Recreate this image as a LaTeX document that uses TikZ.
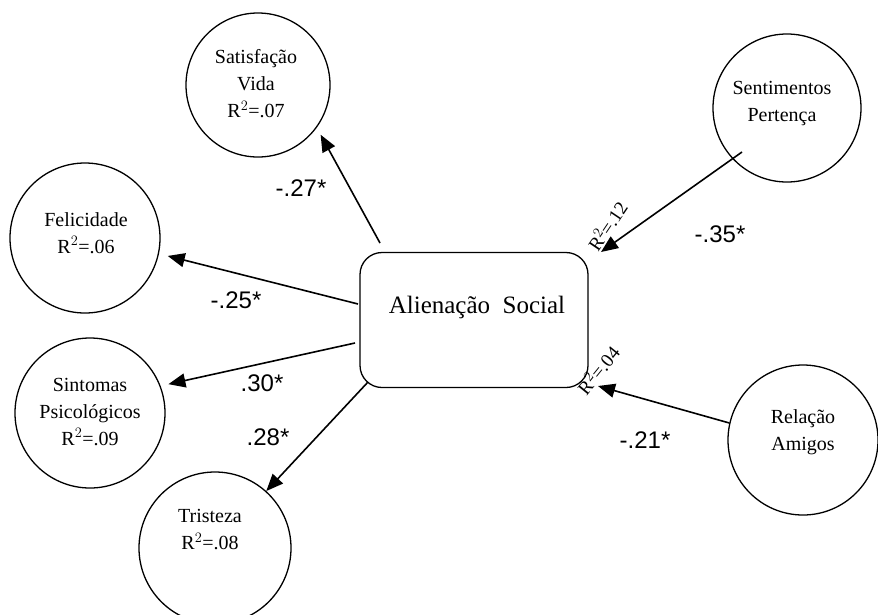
\documentclass[tikz,border=0pt]{standalone}
\usepackage{fontspec}
\setmainfont{Liberation Serif}
\newfontfamily\labfont{Liberation Sans}
\usetikzlibrary{arrows.meta,calc}
\begin{document}
\begin{tikzpicture}[x=1pt,y=-1pt,
  circ/.style={draw,line width=1.3pt,circle,inner sep=0pt},
  ctext/.style={align=center,font=\fontsize{20}{27}\selectfont,inner sep=0pt},
  arr/.style={line width=1.6pt,-{Triangle[length=17pt,width=14pt]}},
  coef/.style={font=\labfont\fontsize{24}{26}\selectfont,inner sep=0pt},
  rlab/.style={font=\fontsize{19}{22}\selectfont,inner sep=0pt}]
\useasboundingbox (0,0) rectangle (878,614);
% nodes
\node[circ,minimum size=144pt] (sat) at (258,85) {};
\node[circ,minimum size=150pt] (fel) at (85,238) {};
\node[circ,minimum size=150pt] (sin) at (90,413) {};
\node[circ,minimum size=152pt] (tri) at (215,548) {};
\node[circ,minimum size=148pt] (sen) at (787,108) {};
\node[circ,minimum size=150pt] (rel) at (803,440) {};
\node[draw,line width=1.3pt,rounded corners=22pt,minimum width=228pt,minimum height=135pt] (al) at (474,320) {};
% texts
\node[ctext] (satT) at (256,84) {Satisfação\\Vida\\R$^2$=.07};
\node[ctext] (felT) at (86,233) {Felicidade\\R$^2$=.06};
\node[ctext] (sinT) at (90,412) {Sintomas\\Psicológicos\\R$^2$=.09};
\node[ctext] (triT) at (210,530) {Tristeza\\R$^2$=.08};
\node[ctext] (senT) at (782,104) {Sentimentos\\Pertença};
\node[ctext] (relT) at (803,432) {Relação\\Amigos};
\node[font=\fontsize{25}{28}\selectfont,inner sep=0pt] (alT) at (477,307) {Alienação\ \ Social};
% connector end points
\coordinate (a1) at (380,243);
\coordinate (a2) at (358,304);
\coordinate (a3) at (355,343);
\coordinate (a4) at (368,382);
\coordinate (s1) at (742,152);
\coordinate (t1) at (601,252);
\coordinate (t2) at (598,386);
% connectors
\draw[arr,shorten >=8pt] (a1) -- (sat.-36);
\draw[arr,shorten >=9pt] (a2) -- (fel.-12);
\draw[arr,shorten >=8pt] (a3) -- (sin.21);
\draw[arr] (a4) -- (tri.48);
\draw[arr] (s1) -- (t1);
\draw[arr] (rel.167) -- (t2);
% labels
\node[coef] (l1) at (301,188) {-.27*};
\node[coef] (l2) at (236,300) {-.25*};
\node[coef] (l3) at (262,383) {.30*};
\node[coef] (l4) at (268,437) {.28*};
\node[coef] (l5) at (720,234) {-.35*};
\node[coef] (l6) at (645,440) {-.21*};
\node[rlab,rotate=56] (r1) at (607,226) {R$^2$=.12};
\node[rlab,rotate=51] (r2) at (598,370) {R$^2$=.04};
\end{tikzpicture}
\end{document}
